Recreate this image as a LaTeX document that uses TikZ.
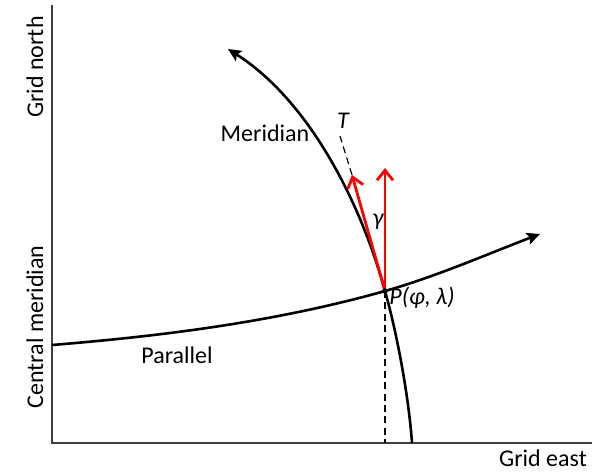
\documentclass[tikz,border=0pt]{standalone}
\usepackage{fontspec}
\setmainfont{Carlito}
\usetikzlibrary{arrows.meta,positioning}

\begin{document}
\begin{tikzpicture}[
  x=0.5pt, y=-0.5pt,
  axis/.style={draw=black!75, line width=0.85pt},
  curve/.style={line width=1.3pt, -{Stealth[length=6.5pt,width=6pt,inset=1.2pt]}},
  guide/.style={dash pattern=on 3.5pt off 2.2pt, line width=0.6pt},
  vec/.style={red, line width=1.4pt, -{Straight Barb[length=5pt,width=8pt]}},
  lbl/.style={font=\fontsize{12}{14}\selectfont, inner sep=0pt},
  ilbl/.style={font=\fontsize{12}{14}\selectfont\itshape, inner sep=0pt}
]
\useasboundingbox (0,0) rectangle (592,472);

% axes
\coordinate (O) at (52,443);
\coordinate (N) at (52,5);
\coordinate (E) at (592,443);
\draw[axis] (N) -- (O) -- (E);

% point and helper points
\coordinate (P) at (385,291);
\coordinate (Pfoot) at (385,443);
\coordinate (Ptop) at (385,168);
\coordinate (Tip) at (352,175);
\coordinate (Tend) at (340,136);
\coordinate (Mfoot) at (412,443);
\coordinate (Mend) at (228,49);
\coordinate (Pstart) at (52,345);
\coordinate (Pend) at (540,234);

\draw[guide] (P) -- (Pfoot);
\draw[guide] (Tip) -- (Tend);

% meridian and parallel
\draw[curve] (Mfoot) .. controls (409,400) and (398,337) .. (P)
  .. controls (360,200) and (308,100) .. (Mend);
\draw[curve] (Pstart) .. controls (162,336) and (275,322) .. (P)
  .. controls (435,277) and (490,253) .. (Pend);

% grid north and tangent
\draw[vec] (P) -- (Ptop);
\draw[vec] (P) -- (Tip);
\fill (P) circle[radius=1.4pt];

\node[ilbl] (tlab) at (343,121) {T};
\node[ilbl] (gamma) at (378,222) {γ};
\node[ilbl, anchor=west] (plab) at (389,298) {P(φ, λ)};
\node[lbl] (mer) at (265,133) {Meridian};
\node[lbl] (par) at (177,355) {Parallel};
\node[lbl] (east) at (543,458) {Grid east};
\node[lbl, rotate=90] (north) at (35,67) {Grid north};
\node[lbl, rotate=90] (cm) at (35,327) {Central meridian};
\end{tikzpicture}
\end{document}
